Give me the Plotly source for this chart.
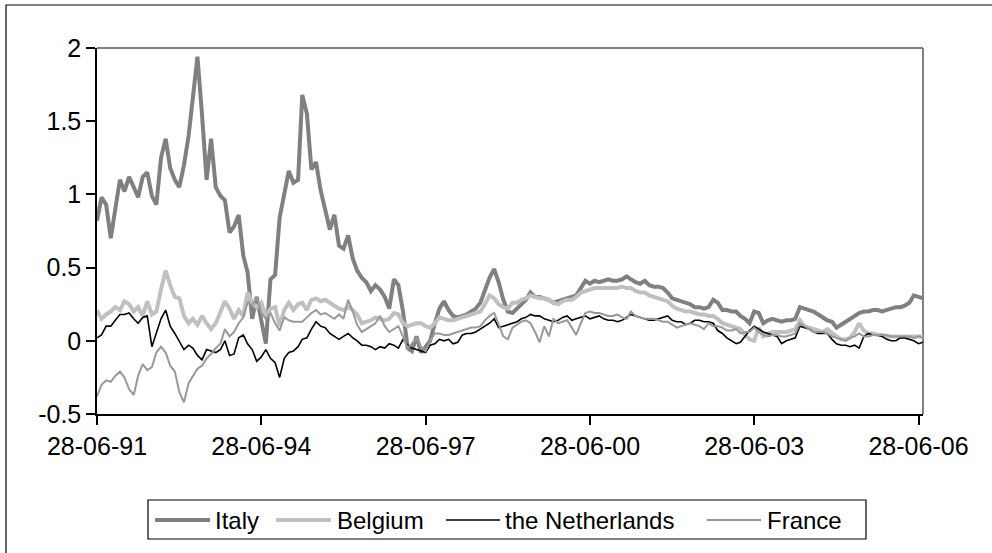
import pandas as pd
import plotly.graph_objects as go

# ---------------- data (monthly readings, starting 28-06-1991) ----------------
start_date = "1991-06-28"

italy = [
    0.82, 0.98, 0.93, 0.70, 0.90, 1.10, 1.02, 1.12, 1.05, 0.98,
    1.12, 1.15, 0.99, 0.93, 1.25, 1.38, 1.18, 1.10, 1.05, 1.20,
    1.40, 1.65, 1.94, 1.55, 1.10, 1.38, 1.05, 0.99, 0.96, 0.74,
    0.78, 0.86, 0.58, 0.47, 0.15, 0.30, 0.15, -0.02, 0.42, 0.45,
    0.84, 1.02, 1.16, 1.08, 1.10, 1.68, 1.55, 1.17, 1.22, 1.03,
    0.90, 0.76, 0.86, 0.65, 0.63, 0.72, 0.56, 0.48, 0.43, 0.40,
    0.34, 0.38, 0.35, 0.30, 0.22, 0.42, 0.38, 0.20, -0.05, -0.07,
    0.03, -0.08, -0.04, 0.00, 0.12, 0.22, 0.27, 0.21, 0.17, 0.16,
    0.17, 0.18, 0.20, 0.22, 0.26, 0.35, 0.43, 0.49, 0.40, 0.28,
    0.20, 0.19, 0.22, 0.25, 0.28, 0.33, 0.30, 0.30, 0.29, 0.28,
    0.26, 0.27, 0.28, 0.29, 0.30, 0.31, 0.36, 0.41, 0.39, 0.41,
    0.40, 0.41, 0.42, 0.41, 0.41, 0.42, 0.44, 0.42, 0.40, 0.39,
    0.41, 0.38, 0.37, 0.37, 0.36, 0.33, 0.29, 0.28, 0.27, 0.26,
    0.25, 0.23, 0.23, 0.22, 0.23, 0.28, 0.26, 0.21, 0.21, 0.20,
    0.20, 0.17, 0.15, 0.12, 0.20, 0.19, 0.12, 0.14, 0.15, 0.14,
    0.13, 0.14, 0.14, 0.15, 0.23, 0.22, 0.21, 0.20, 0.18, 0.16,
    0.14, 0.13, 0.09, 0.11, 0.13, 0.15, 0.17, 0.19, 0.20, 0.20,
    0.21, 0.21, 0.20, 0.21, 0.22, 0.23, 0.23, 0.24, 0.26, 0.31,
    0.30, 0.29,
]

belgium = [
    0.21, 0.15, 0.18, 0.20, 0.23, 0.21, 0.27, 0.25, 0.20, 0.23,
    0.17, 0.27, 0.18, 0.20, 0.35, 0.48, 0.38, 0.30, 0.29, 0.17,
    0.12, 0.15, 0.11, 0.17, 0.12, 0.08, 0.12, 0.19, 0.27, 0.22,
    0.15, 0.21, 0.17, 0.33, 0.26, 0.23, 0.26, 0.17, 0.22, 0.23,
    0.10, 0.21, 0.26, 0.21, 0.25, 0.26, 0.21, 0.28, 0.29, 0.27,
    0.28, 0.26, 0.24, 0.22, 0.21, 0.23, 0.21, 0.18, 0.12, 0.13,
    0.14, 0.16, 0.15, 0.14, 0.15, 0.19, 0.18, 0.12, 0.10, 0.11,
    0.12, 0.12, 0.10, 0.09, 0.12, 0.16, 0.15, 0.14, 0.14, 0.15,
    0.16, 0.17, 0.18, 0.19, 0.20, 0.25, 0.31, 0.29, 0.25, 0.23,
    0.22, 0.26, 0.26, 0.28, 0.29, 0.31, 0.30, 0.29, 0.29, 0.28,
    0.26, 0.25, 0.27, 0.28, 0.28, 0.30, 0.33, 0.34, 0.35, 0.36,
    0.36, 0.36, 0.36, 0.36, 0.36, 0.37, 0.36, 0.36, 0.34, 0.33,
    0.33, 0.31, 0.30, 0.29, 0.28, 0.27, 0.24, 0.22, 0.21, 0.20,
    0.20, 0.19, 0.18, 0.18, 0.17, 0.17, 0.15, 0.12, 0.11, 0.10,
    0.09, 0.08, 0.04, 0.01, 0.00, 0.09, 0.03, 0.05, 0.06, 0.06,
    0.06, 0.06, 0.07, 0.08, 0.14, 0.10, 0.09, 0.08, 0.07, 0.06,
    0.08, 0.05, 0.03, 0.01, 0.01, 0.02, 0.06, 0.12, 0.07, 0.05,
    0.05, 0.04, 0.04, 0.03, 0.03, 0.03, 0.03, 0.03, 0.03, 0.03,
    0.03, 0.03,
]

netherlands = [
    0.02, 0.04, 0.10, 0.10, 0.14, 0.18, 0.18, 0.19, 0.15, 0.12,
    0.16, 0.17, -0.04, 0.05, 0.15, 0.21, 0.10, 0.05, 0.00, -0.06,
    -0.03, -0.05, -0.10, -0.13, -0.06, -0.07, -0.08, -0.06, 0.00, -0.10,
    -0.09, 0.02, 0.04, -0.02, -0.06, -0.14, -0.11, -0.06, -0.12, -0.15,
    -0.25, -0.12, -0.08, -0.07, -0.04, 0.01, 0.02, 0.08, 0.13, 0.10,
    0.09, 0.05, 0.03, 0.01, 0.03, 0.05, 0.02, 0.00, -0.03, -0.03,
    -0.04, -0.06, -0.04, -0.05, -0.02, -0.03, -0.05, 0.01, -0.03, -0.05,
    -0.06, -0.07, -0.08, -0.03, -0.02, 0.01, 0.00, 0.01, -0.02, -0.01,
    0.04, 0.05, 0.05, 0.06, 0.08, 0.10, 0.12, 0.15, 0.09, 0.10,
    0.11, 0.12, 0.13, 0.15, 0.16, 0.18, 0.17, 0.17, 0.15, 0.14,
    0.13, 0.14, 0.16, 0.17, 0.14, 0.15, 0.16, 0.17, 0.15, 0.16,
    0.17, 0.15, 0.14, 0.14, 0.13, 0.14, 0.16, 0.18, 0.17, 0.16,
    0.15, 0.14, 0.14, 0.15, 0.16, 0.17, 0.14, 0.13, 0.13, 0.11,
    0.12, 0.14, 0.14, 0.13, 0.13, 0.12, 0.07, 0.05, 0.02, 0.00,
    -0.02, -0.01, 0.03, 0.07, 0.10, 0.08, 0.06, 0.05, 0.04, 0.03,
    -0.02, 0.00, 0.01, 0.02, 0.10, 0.09, 0.08, 0.06, 0.05, 0.05,
    0.05, 0.01, -0.02, -0.03, -0.03, -0.04, -0.03, -0.05, 0.03, 0.05,
    0.04, 0.04, 0.03, 0.01, 0.00, 0.00, 0.02, 0.02, 0.01, 0.00,
    -0.02, -0.01,
]

france = [
    -0.38, -0.30, -0.27, -0.28, -0.24, -0.21, -0.25, -0.33, -0.37, -0.24,
    -0.16, -0.20, -0.18, -0.08, -0.04, -0.08, -0.17, -0.21, -0.35, -0.42,
    -0.29, -0.24, -0.19, -0.17, -0.12, -0.09, -0.05, -0.02, 0.08, 0.03,
    0.06, 0.12, 0.16, 0.26, 0.24, 0.30, 0.19, 0.15, 0.19, 0.12,
    0.07, 0.16, 0.14, 0.13, 0.13, 0.13, 0.16, 0.19, 0.21, 0.18,
    0.19, 0.17, 0.15, 0.18, 0.15, 0.28, 0.20, 0.11, 0.06, 0.08,
    0.10, 0.12, 0.17, 0.10, 0.06, 0.08, 0.10, 0.03, -0.05, -0.02,
    0.02, -0.04, -0.07, 0.00, 0.05, 0.05, 0.04, 0.04, 0.05, 0.06,
    0.07, 0.08, 0.09, 0.09, 0.10, 0.14, 0.17, 0.19, 0.11, 0.03,
    0.01, 0.09, 0.11, 0.13, 0.14, 0.12, 0.06, -0.01, 0.10, 0.03,
    0.15, 0.12, 0.13, 0.14, 0.09, 0.04, 0.12, 0.19, 0.20, 0.19,
    0.19, 0.18, 0.17, 0.17, 0.18, 0.16, 0.15, 0.20, 0.17, 0.16,
    0.15, 0.15, 0.15, 0.14, 0.13, 0.13, 0.11, 0.09, 0.10, 0.11,
    0.12, 0.11, 0.10, 0.08, 0.12, 0.10, 0.10, 0.09, 0.07, 0.07,
    0.08, 0.05, 0.06, 0.06, 0.09, 0.06, 0.04, 0.03, 0.04, 0.04,
    0.03, 0.03, 0.04, 0.05, 0.12, 0.10, 0.08, 0.06, 0.06, 0.06,
    0.05, 0.03, 0.02, 0.01, 0.00, 0.02, 0.03, 0.05, 0.03, 0.03,
    0.04, 0.04, 0.04, 0.04, 0.03, 0.03, 0.03, 0.03, 0.03, 0.02,
    0.03, 0.02,
]

x_tick_dates = ["1991-06-28", "1994-06-28", "1997-06-28", "2000-06-28", "2003-06-28", "2006-06-28"]
x_tick_text = ["28-06-91", "28-06-94", "28-06-97", "28-06-00", "28-06-03", "28-06-06"]
y_tick_vals = [-0.5, 0, 0.5, 1, 1.5, 2]
y_tick_text = ["-0.5", "0", "0.5", "1", "1.5", "2"]

series_names = ["Italy", "Belgium", "the Netherlands", "France"]
series_colors = ["#808080", "#c0c0c0", "#000000", "#999999"]
series_widths = [4, 4, 1.6, 2]

# ---------------- figure ----------------
dates = [d.strftime("%Y-%m-%d") for d in
         pd.date_range(start_date, periods=len(italy), freq=pd.DateOffset(months=1))]

W, H = 992, 553
L, R, T, B = 97, 69, 48, 139
pw, ph = W - L - R, H - T - B

def px(xp):
    return (xp - L) / pw

def py(yp):
    return (H - B - yp) / ph

FONT = "Liberation Sans, Arial, sans-serif"

fig = go.Figure()
for name, vals, col, wd in zip(series_names, [italy, belgium, netherlands, france],
                               series_colors, series_widths):
    fig.add_trace(go.Scatter(x=dates, y=vals, mode="lines", name=name,
                             line=dict(color=col, width=wd), showlegend=False))

fig.update_layout(
    width=W, height=H,
    margin=dict(l=L, r=R, t=T, b=B, autoexpand=False),
    paper_bgcolor="white", plot_bgcolor="white",
    font=dict(family=FONT, size=24, color="black"),
    xaxis=dict(type="date", range=[dates[0], dates[-1]],
               tickvals=x_tick_dates, ticktext=x_tick_text,
               showgrid=False, zeroline=False, showline=True,
               linecolor="black", linewidth=1.5,
               ticks="outside", ticklen=9, tickwidth=1.5, tickcolor="black",
               tickfont=dict(family=FONT, size=25, color="black"),
               automargin=False),
    yaxis=dict(range=[-0.5, 2], tickvals=y_tick_vals, ticktext=y_tick_text,
               showgrid=False, zeroline=False, showline=True,
               linecolor="black", linewidth=1.5,
               ticks="outside", ticklen=9, tickwidth=1.5, tickcolor="black",
               tickfont=dict(family=FONT, size=25, color="black"),
               automargin=False),
    showlegend=False,
)

shapes = []
# plot-area top and right border (grey)
shapes.append(dict(type="line", xref="paper", yref="paper", x0=0, x1=1, y0=1, y1=1,
                   line=dict(color="#808080", width=2), layer="below"))
shapes.append(dict(type="line", xref="paper", yref="paper", x0=1, x1=1, y0=0, y1=1,
                   line=dict(color="#808080", width=2), layer="below"))
# outer chart border (right / bottom edges fall just outside the picture)
shapes.append(dict(type="rect", xref="paper", yref="paper",
                   x0=px(6), x1=px(994), y0=py(556), y1=py(5),
                   line=dict(color="black", width=1.2), layer="below"))
# legend box
shapes.append(dict(type="rect", xref="paper", yref="paper",
                   x0=px(148), x1=px(866), y0=py(539), y1=py(500),
                   line=dict(color="black", width=1.2), fillcolor="white", layer="below"))

annotations = []
legend_line_x = [(155, 210), (276, 331), (446, 500), (707, 761)]
legend_text_x = [213, 335, 503, 765]
ly = 520
for name, col, wd, (a, b), tx in zip(series_names, series_colors, series_widths,
                                     legend_line_x, legend_text_x):
    shapes.append(dict(type="line", xref="paper", yref="paper",
                       x0=px(a), x1=px(b), y0=py(ly), y1=py(ly),
                       line=dict(color=col, width=wd)))
    annotations.append(dict(xref="paper", yref="paper", x=px(tx), y=py(ly),
                            text=name, showarrow=False, xanchor="left", yanchor="middle",
                            font=dict(family=FONT, size=24, color="black")))

fig.update_layout(shapes=shapes, annotations=annotations)
fig.write_html("out.html", config={"displayModeBar": False},
               post_script="document.body.style.margin='0';")
